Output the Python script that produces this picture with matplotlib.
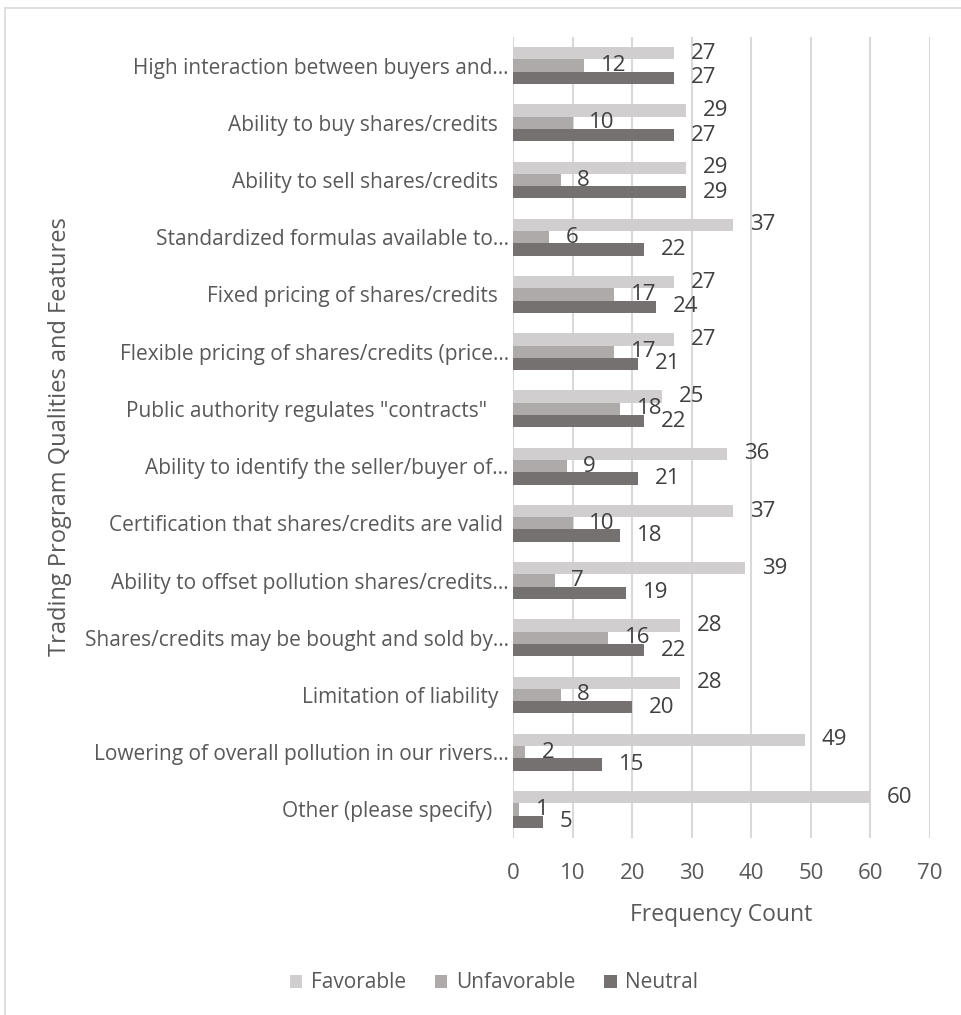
import matplotlib.pyplot as plt
import numpy as np

# dados
categories = [
    'High interaction between buyers and...',
    'Ability to buy shares/credits  ',
    'Ability to sell shares/credits  ',
    'Standardized formulas available to...',
    'Fixed pricing of shares/credits  ',
    'Flexible pricing of shares/credits (price...',
    'Public authority regulates "contracts"    ',
    'Ability to identify the seller/buyer of...',
    'Certification that shares/credits are valid ',
    'Ability to offset pollution shares/credits...',
    'Shares/credits may be bought and sold by...',
    'Limitation of liability  ',
    'Lowering of overall pollution in our rivers...',
    'Other (please specify)   ',
]
favorable = [27, 29, 29, 37, 27, 27, 25, 36, 37, 39, 28, 28, 49, 60]
unfavorable = [12, 10, 8, 6, 17, 17, 18, 9, 10, 7, 16, 8, 2, 1]
neutral = [27, 27, 29, 22, 24, 21, 22, 21, 18, 19, 22, 20, 15, 5]
series_names = ['Favorable', 'Unfavorable', 'Neutral']
colors = ['#d0cece', '#aeaaaa', '#767171']
xticks = [0, 10, 20, 30, 40, 50, 60, 70]

plt.rcParams['font.family'] = ['Open Sans', 'DejaVu Sans']
text_color = '#595959'

fig = plt.figure(figsize=(9.61, 10.15), dpi=100)
ax = fig.add_axes([513 / 961, 1 - 838 / 1015, (930 - 513) / 961, (838 - 37) / 1015])

y = np.arange(len(categories))
h = 0.215
for i, (vals, name, c) in enumerate(zip([favorable, unfavorable, neutral], series_names, colors)):
    pos = y + (i - 1) * h
    ax.barh(pos, vals, height=h, color=c, label=name, zorder=3)
    for yy, v in zip(pos, vals):
        ax.annotate(str(v), (v, yy), xytext=(12, 0), textcoords='offset points',
                    va='center', ha='left', fontsize=16, color='#404040', zorder=4)

ax.set_ylim(len(categories) - 0.5, -0.5)
ax.set_xlim(0, 70)
ax.set_xticks(xticks)
ax.set_yticks(y)
ax.set_yticklabels(categories, fontsize=15)
ax.tick_params(axis='both', length=0, colors=text_color)
ax.tick_params(axis='x', pad=18, labelsize=16)
ax.tick_params(axis='y', pad=3)
for s in ax.spines.values():
    s.set_visible(False)
ax.grid(axis='x', color='#d9d9d9', linewidth=1.5, zorder=0)
ax.set_axisbelow(True)

ax.set_xlabel('Frequency Count', fontsize=16.5, color=text_color, labelpad=14)
fig.text(60 / 961, 1 - 437 / 1015, 'Trading Program Qualities and Features', rotation=90,
         ha='center', va='center', fontsize=17, color=text_color)

fig.legend(loc='center', bbox_to_anchor=(494 / 961, 1 - 983 / 1015), ncol=3, frameon=False,
           fontsize=15, labelcolor=text_color, handlelength=0.6, handleheight=0.6,
           columnspacing=1.4, handletextpad=0.4)

# moldura da área do gráfico
fig.add_artist(plt.Rectangle((5 / 961, -0.1), 1.2, 1.1 - 8 / 1015, transform=fig.transFigure,
                             fill=False, ec='#d9d9d9', lw=1.2))

fig.savefig('out.png', dpi=100, facecolor='white')
